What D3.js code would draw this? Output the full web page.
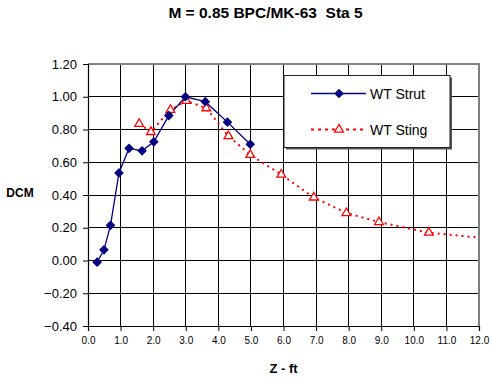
<!DOCTYPE html>
<html>
<head>
<meta charset="utf-8">
<script src="https://cdn.jsdelivr.net/npm/d3@7"></script>
<style>
  body { margin: 0; background: #fff; }
  text { font-family: "Liberation Sans", Arial, sans-serif; }
</style>
</head>
<body>
<div id="chart"></div>
<script>
// WT Strut series
const strutZ = [0.28, 0.49, 0.69, 0.95, 1.26, 1.66, 2.02, 2.48, 2.99, 3.60, 4.28, 4.98]
const strutDCM = [-0.01, 0.065, 0.215, 0.535, 0.685, 0.67, 0.725, 0.885, 1.00, 0.97, 0.845, 0.71]

// WT Sting series (last point lies past the axis end and gets clipped)
const stingZ = [1.57, 1.93, 2.53, 3.02, 3.63, 4.31, 4.98, 5.93, 6.93, 7.93, 8.93, 10.46, 12.5]
const stingDCM = [0.835, 0.785, 0.92, 0.975, 0.93, 0.76, 0.645, 0.525, 0.385, 0.29, 0.235, 0.17, 0.13]

const xTicks = [0, 1, 2, 3, 4, 5, 6, 7, 8, 9, 10, 11, 12]
const yTicks = [-0.4, -0.2, 0, 0.2, 0.4, 0.6, 0.8, 1.0, 1.2]

const W = 491, H = 378
const margin = { top: 64, right: 12, bottom: 52, left: 88 }
const width = W - margin.left - margin.right
const height = H - margin.top - margin.bottom

const svg = d3.select('#chart').append('svg')
  .attr('width', W)
  .attr('height', H)

const g = svg.append('g')
  .attr('transform', 'translate(' + margin.left + ',' + margin.top + ')')

const x = d3.scaleLinear().domain([0, 12]).range([0, width])
const y = d3.scaleLinear().domain([-0.4, 1.2]).range([height, 0])

// grid
g.selectAll('.vgrid').data(xTicks.slice(1, -1)).enter().append('line')
  .attr('x1', d => x(d)).attr('x2', d => x(d))
  .attr('y1', 0).attr('y2', height)
  .attr('stroke', '#000').attr('stroke-width', 1)
  .attr('shape-rendering', 'crispEdges')

g.selectAll('.hgrid').data(yTicks.slice(1, -1)).enter().append('line')
  .attr('x1', 0).attr('x2', width)
  .attr('y1', d => y(d)).attr('y2', d => y(d))
  .attr('stroke', '#000').attr('stroke-width', 1)
  .attr('shape-rendering', 'crispEdges')

// plot border (top/right grey)
g.append('path')
  .attr('d', 'M0,0H' + width + 'V' + height)
  .attr('fill', 'none').attr('stroke', '#808080').attr('stroke-width', 1.5)
  .attr('shape-rendering', 'crispEdges')

// axes
const xAxis = g.append('g')
  .attr('transform', 'translate(0,' + height + ')')
  .call(d3.axisBottom(x).tickValues(xTicks).tickFormat(d3.format('.1f')).tickSize(5).tickPadding(6))
const yAxis = g.append('g')
  .call(d3.axisLeft(y).tickValues(yTicks).tickFormat(d3.format('.2f')).tickSize(5).tickPadding(6))

xAxis.selectAll('text').attr('font-size', 10).attr('fill', '#000')
yAxis.selectAll('text').attr('font-size', 13).attr('fill', '#000')
g.selectAll('.domain').attr('stroke', '#000').attr('stroke-width', 1.2)
g.selectAll('.tick line').attr('stroke', '#000')

// clip to plot area
svg.append('defs').append('clipPath').attr('id', 'clip')
  .append('rect').attr('width', width).attr('height', height)

const plot = g.append('g').attr('clip-path', 'url(#clip)')

const strut = strutZ.map((d, i) => ({ x: d, y: strutDCM[i] }))
const sting = stingZ.map((d, i) => ({ x: d, y: stingDCM[i] }))

const line = d3.line().x(d => x(d.x)).y(d => y(d.y))

plot.append('path').datum(sting)
  .attr('d', line)
  .attr('fill', 'none').attr('stroke', '#ff0000')
  .attr('stroke-width', 2).attr('stroke-dasharray', '2,4')

plot.append('path').datum(strut)
  .attr('d', line)
  .attr('fill', 'none').attr('stroke', '#000080').attr('stroke-width', 1.3)

const diamond = d3.symbol().type(d3.symbolDiamond2).size(60)
const triangle = d3.symbol().type(d3.symbolTriangle2).size(55)

plot.selectAll('.sting').data(sting).enter().append('path')
  .attr('d', triangle)
  .attr('transform', d => 'translate(' + x(d.x) + ',' + y(d.y) + ')')
  .attr('fill', '#fff').attr('stroke', '#ff0000').attr('stroke-width', 1.3)

plot.selectAll('.strut').data(strut).enter().append('path')
  .attr('d', diamond)
  .attr('transform', d => 'translate(' + x(d.x) + ',' + y(d.y) + ')')
  .attr('fill', '#000080')

// legend
const leg = g.append('g').attr('transform', 'translate(' + (284 - margin.left) + ',' + (75.5 - margin.top) + ')')
leg.append('rect').attr('x', 2).attr('y', 2).attr('width', 166).attr('height', 72).attr('fill', '#555')
leg.append('rect').attr('width', 166).attr('height', 72)
  .attr('fill', '#fff').attr('stroke', '#222').attr('stroke-width', 1)

leg.append('line').attr('x1', 27).attr('x2', 82).attr('y1', 18).attr('y2', 18)
  .attr('stroke', '#000080').attr('stroke-width', 1.3)
leg.append('path').attr('d', diamond).attr('transform', 'translate(55,18)').attr('fill', '#000080')
leg.append('text').attr('x', 86).attr('y', 23).attr('font-size', 14).text('WT Strut')

leg.append('line').attr('x1', 27).attr('x2', 82).attr('y1', 54).attr('y2', 54)
  .attr('stroke', '#ff0000').attr('stroke-width', 2).attr('stroke-dasharray', '3,4')
leg.append('path').attr('d', triangle).attr('transform', 'translate(55,54)')
  .attr('fill', '#fff').attr('stroke', '#ff0000').attr('stroke-width', 1.3)
leg.append('text').attr('x', 86).attr('y', 59).attr('font-size', 14).text('WT Sting')

// titles
svg.append('text').attr('x', 265.5).attr('y', 18)
  .attr('text-anchor', 'middle').attr('font-size', 15.5).attr('font-weight', 'bold')
  .style('white-space', 'pre')
  .text('M = 0.85 BPC/MK-63  Sta 5')

svg.append('text').attr('x', 20).attr('y', 197)
  .attr('text-anchor', 'middle').attr('font-size', 12).attr('font-weight', 'bold')
  .text('DCM')

svg.append('text').attr('x', margin.left + width / 2).attr('y', 373)
  .attr('text-anchor', 'middle').attr('font-size', 13).attr('font-weight', 'bold')
  .text('Z - ft')
</script>
</body>
</html>
